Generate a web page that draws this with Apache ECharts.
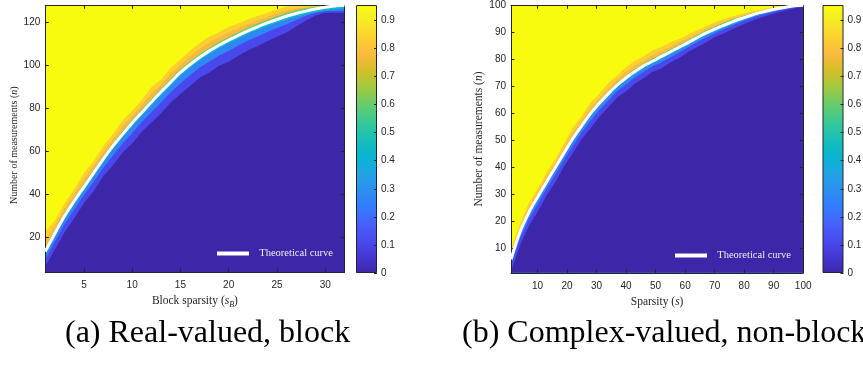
<!DOCTYPE html>
<html><head><meta charset="utf-8">
<script src="https://cdn.jsdelivr.net/npm/echarts@6/dist/echarts.min.js"></script>
<style>html,body{margin:0;padding:0;background:#fff}#c{width:863px;height:366px}</style>
</head><body><div id="c"></div>
<script>
// ---------- (a) real-valued, block ----------
const leftX = [1,2,3,4,5,6,7,8,9,10,11,12,13,14,15,16,17,18,19,20,21,22,23,24,25,26,27,28,29,30,31,32];
const leftTheory = [13.5,22,30,37,43.5,50,56.5,62.5,68,73.3,78.2,83,87.8,92.3,96.8,100.5,103.8,106.8,109.4,111.8,114,116.1,118,119.8,121.4,122.9,124.2,125.3,126.3,127.1,127.7,128];
// contour boundaries (n where success probability reaches given level)
const leftP95 = [23,28,36,42.5,50,55.5,62.5,68,74.5,79,84,90,93.5,99,102.8,107,110.5,113.5,115.5,118,119.5,121.5,123,124.5,126,127.5,128,128,128,128,128,128];
const leftP85 = [19.2,25.6,33.6,40.3,47.4,53.3,60.1,65.8,71.9,76.7,81.7,87.2,91.2,96.3,100.4,104.4,107.8,110.8,113.1,115.5,117.3,119.3,121,122.6,124.2,125.7,126.5,126.9,127.3,127.6,127.9,128];
const leftP65 = [15,23.5,31.5,38.5,45,51.5,58,64,69.5,74.8,79.7,84.5,89.3,93.8,98.3,102,105.3,108.3,110.9,113.3,115.5,117.6,119.5,121.3,122.9,124.4,125.7,126.8,127.3,127.6,127.9,128];
const leftP50 = [13.5,22,30,37,43.5,50,56.5,62.5,68,73.3,78.2,83,87.8,92.3,96.8,100.5,103.8,106.8,109.4,111.8,114,116.1,118,119.8,121.4,122.9,124.2,125.3,126.3,127.1,127.7,128];
const leftP35 = [12,20.5,28.5,35.5,42,48.5,55,61,66.5,71.8,76.7,81.5,86.3,90.8,95.3,99,102.3,105.3,107.9,110.3,112.5,114.6,116.5,118.3,119.9,121.4,122.7,123.8,124.8,125.6,126.2,126.5];
const leftP15 = [10,18.3,26.3,33,39.8,45.8,52.5,58,63.8,68.6,73.7,78.3,82.8,87.6,91.8,95.5,99.1,101.8,104.7,106.8,109.3,111.6,113.5,115.6,117.4,119.2,121.2,123.1,124.4,125.2,125.4,125.5];
const leftP03 = [6.5,14.5,22.5,29,36,41.5,48.5,53.5,59.5,63.8,69.2,73.5,77.8,82.8,86.8,90.5,94.3,96.8,99.9,101.8,104.5,107.1,109,111.3,113.4,115.4,118.2,120.8,123.3,124.5,124.5,124.5];
const leftXTicks = [5,10,15,20,25,30];
const leftYTicks = [20,40,60,80,100,120];

// ---------- (b) complex-valued, non-block ----------
const rightX = [1,4,7,10,13,16,19,22,25,28,31,34,37,40,43,46,49,52,55,58,61,64,67,70,73,76,79,82,85,88,91,94,97,100];
const rightTheory = [6,16,23.2,29,34.5,40,45.4,50.8,55.5,60,63.8,67.3,70.5,73.2,75.5,77.6,79.4,81.1,82.8,84.5,86.2,88,89.7,91.2,92.6,93.9,95.1,96.2,97.2,98,98.7,99.3,99.8,100];
const rightP95 = [10,19,26.7,32,38,43,48.9,54.8,59,64,67.3,71.3,74,77.2,79.5,81.1,83.4,84.6,86.3,87.5,89.2,90.8,92.2,93.7,94.8,95.9,96.8,97.6,98.3,98.9,99.4,99.8,100,100];
const rightP85 = [8.2,17.7,25.1,30.7,36.4,41.7,47.3,53,57.4,62.2,65.7,69.5,72.4,75.4,77.7,79.5,81.6,83,84.7,86.2,87.9,89.5,91.1,92.6,93.8,95,96,97,97.8,98.5,99.1,99.6,99.9,100];
const rightP65 = [6.9,16.9,24.1,29.9,35.4,40.9,46.3,51.7,56.4,60.9,64.7,68.2,71.4,74.1,76.4,78.5,80.3,82,83.7,85.4,87.1,88.9,90.6,92.1,93.5,94.8,95.9,96.9,97.7,98.4,99,99.5,99.9,100];
const rightP50 = [6,16,23.2,29,34.5,40,45.4,50.8,55.5,60,63.8,67.3,70.5,73.2,75.5,77.6,79.4,81.1,82.8,84.5,86.2,88,89.7,91.2,92.6,93.9,95.1,96.2,97.2,98,98.7,99.3,99.8,100];
const rightP35 = [5.1,15.1,22.3,28.1,33.6,39.1,44.5,49.9,54.6,59.1,62.9,66.4,69.6,72.3,74.6,76.7,78.5,80.2,81.9,83.6,85.3,87.1,88.8,90.3,91.7,93,94.2,95.4,96.5,97.4,98.2,98.9,99.5,99.8];
const rightP15 = [3.8,13.5,20.7,26.3,32,37.3,42.9,48.1,53,57.3,61.3,64.8,68.3,70.7,73.3,75.4,77.4,78.9,80.8,82.5,84.5,86.3,88,89.7,91.1,92.5,93.9,95.1,96.2,97.1,97.9,98.7,99.3,99.7];
const rightP03 = [1.5,11,18.2,23.5,29.5,34.5,40.4,45.3,50.5,54.5,58.8,62.3,66,68.2,71,73.1,75.4,76.6,78.8,80.5,82.7,84.5,86.2,88.2,89.6,91.1,92.6,94,95.2,96.2,97.2,98.1,98.9,99.4];
const rightXTicks = [10,20,30,40,50,60,70,80,90,100];
const rightYTicks = [10,20,30,40,50,60,70,80,90,100];

// ---------- colorbar ----------
const colorbarTicks = [0,0.1,0.2,0.3,0.4,0.5,0.6,0.7,0.8,0.9];
const colorbarMax = [0.955];

const FRAME = '#262626';
const SANS = 'Liberation Sans';
const SERIF = 'Liberation Serif';
const parula = ['#3E26A8','#4537D5','#484DF0','#4563FD','#327CFC','#2B91EF','#20A5E3','#08B5D0','#19BFB6','#37C897','#64CD6F','#9DC943','#D1BF27','#F8BA3D','#FCCF30','#F5E924','#F9FB15'];
const bandColors = ['#FCCF30','#F8BA3D','#64CD6F','#0CB8CB','#2F86F6','#4848EC','#3E26A8'];

const chart = echarts.init(document.getElementById('c'), null, {renderer: 'canvas'});

const grids = [
  {left: 45.3, top: 5.3, width: 299.2, height: 266.7},   // 0 left plot
  {left: 356, top: 5, width: 21, height: 268},           // 1 left colorbar
  {left: 511, top: 5.3, width: 292.2, height: 267.5},    // 2 right plot
  {left: 822.5, top: 5, width: 21, height: 268}          // 3 right colorbar
].map(g => Object.assign({containLabel: false, outerBoundsMode: 'none', show: false}, g));
grids[0].show = true; grids[0].backgroundColor = '#F9FB0E'; grids[0].borderWidth = 0;
grids[2].show = true; grids[2].backgroundColor = '#F9FB0E'; grids[2].borderWidth = 0;

const xAxes = [], yAxes = [];
function richT(fs) {
  return {
    t: {fontFamily: SERIF, fontSize: fs, color: FRAME},
    i: {fontFamily: SERIF, fontSize: fs, fontStyle: 'italic', color: FRAME},
    b: {fontFamily: SERIF, fontSize: 8, fontStyle: 'italic', color: FRAME, padding: [7, 0, 0, 0]}
  };
}
function plotAxes(gi, xmin, xmax, xt, ymin, ymax, yt, xname, yname, yGap, yFs, yPad) {
  const tick = (vals) => ({show: true, inside: true, length: 3.5, customValues: vals, lineStyle: {color: FRAME, width: 1}});
  const line = {show: true, onZero: false, lineStyle: {color: FRAME, width: 1}};
  const lab = (vals) => ({show: true, customValues: vals, color: FRAME, fontFamily: SANS, fontSize: 10});
  xAxes.push({gridIndex: gi, type: 'value', position: 'bottom', min: xmin, max: xmax, z: 10,
    axisLine: line, axisTick: tick(xt), axisLabel: Object.assign(lab(xt), {margin: 8}), splitLine: {show: false},
    name: xname, nameLocation: 'middle', nameGap: 19, nameTextStyle: {rich: richT(11.5)}});
  xAxes.push({gridIndex: gi, type: 'value', position: 'top', min: xmin, max: xmax, z: 10,
    axisLine: line, axisTick: tick(xt), axisLabel: {show: false}, splitLine: {show: false}});
  yAxes.push({gridIndex: gi, type: 'value', position: 'left', min: ymin, max: ymax, z: 10,
    axisLine: line, axisTick: tick(yt), axisLabel: Object.assign(lab(yt), {margin: 5}), splitLine: {show: false},
    name: yname, nameLocation: 'middle', nameRotate: 90, nameGap: yGap,
    nameTextStyle: {rich: richT(yFs), padding: yPad}});
  yAxes.push({gridIndex: gi, type: 'value', position: 'right', min: ymin, max: ymax, z: 10,
    axisLine: line, axisTick: tick(yt), axisLabel: {show: false}, splitLine: {show: false}});
}
function cbAxes(gi) {
  xAxes.push({gridIndex: gi, type: 'category', data: ['cb'], show: false, boundaryGap: true});
  yAxes.push({gridIndex: gi, type: 'value', position: 'right', min: 0, max: colorbarMax[0], z: 10,
    axisLine: {show: false}, splitLine: {show: false},
    axisTick: {show: true, inside: true, length: 3, customValues: colorbarTicks, lineStyle: {color: FRAME}},
    axisLabel: {show: true, customValues: colorbarTicks, margin: 4, color: FRAME, fontFamily: SANS, fontSize: 10,
      formatter: v => String(+(+v).toFixed(1))}});
}
// axis indices: left plot x0(bottom) x1(top) y0 y1 ; left cb x2 y2 ; right plot x3 x4 y3 y4 ; right cb x5 y5
plotAxes(0, 1, 32, leftXTicks, 4, 128, leftYTicks,
  '{t|Block sparsity (}{i|s}{b|B}{t|)}', '{t|Number of measurements (}{i|n}{t|)}', 21, 10, [0, 13, 0, 0]);
cbAxes(1);
plotAxes(2, 1, 100, rightXTicks, 1, 100, rightYTicks,
  '{t|Sparsity (}{i|s}{t|)}', '{t|Number of measurements (}{i|n}{t|)}', 20, 11.5, [0, 0, 0, 0]);
cbAxes(3);

const series = [];
function bands(xi, yi, xs, levels) {
  levels.forEach((arr, k) => {
    series.push({type: 'line', xAxisIndex: xi, yAxisIndex: yi, silent: true, symbol: 'none',
      data: xs.map((x, i) => [x, arr[i]]),
      lineStyle: {width: 0, opacity: 0},
      areaStyle: {origin: 'start', color: bandColors[k], opacity: 1},
      z: 2 + k, animation: false});
  });
}
bands(0, 0, leftX, [leftP95, leftP85, leftP65, leftP50, leftP35, leftP15, leftP03]);
bands(3, 3, rightX, [rightP95, rightP85, rightP65, rightP50, rightP35, rightP15, rightP03]);
series.push({name: 'Theoretical curve', type: 'line', xAxisIndex: 0, yAxisIndex: 0, symbol: 'none', smooth: 0.3,
  data: leftX.map((x, i) => [x, leftTheory[i]]), color: '#ffffff', lineStyle: {color: '#ffffff', width: 3}, z: 20});
series.push({name: 'Theoretical curve', type: 'line', xAxisIndex: 3, yAxisIndex: 3, symbol: 'none', smooth: 0.3,
  data: rightX.map((x, i) => [x, rightTheory[i]]), color: '#ffffff', lineStyle: {color: '#ffffff', width: 3}, z: 20});

const cbGradient = () => new echarts.graphic.LinearGradient(0, 1, 0, 0,
  parula.map((c, i) => ({offset: i / (parula.length - 1), color: c})));
[[2, 2], [5, 5]].forEach(([xi, yi]) => {
  series.push({type: 'bar', xAxisIndex: xi, yAxisIndex: yi, silent: true, barWidth: '100%',
    data: colorbarMax, itemStyle: {color: cbGradient(), borderColor: FRAME, borderWidth: 1}, z: 2});
});

const legendBase = {orient: 'horizontal', padding: 0, itemWidth: 32, itemHeight: 4, icon: 'rect', z: 40, zlevel: 0,
  selectedMode: false, data: ['Theoretical curve'], itemStyle: {color: '#ffffff'},
  formatter: n => '  ' + n,
  textStyle: {color: '#EEEEEE', fontFamily: SERIF, fontSize: 10.5}};

chart.setOption({
  animation: false,
  textStyle: {fontFamily: SANS},
  grid: grids,
  xAxis: xAxes,
  yAxis: yAxes,
  legend: [Object.assign({left: 217, top: 248}, legendBase), Object.assign({left: 675, top: 250}, legendBase)],
  series: series,
  graphic: [
    {type: 'text', left: 65, top: 318, style: {text: '(a) Real-valued, block', font: '32px "Liberation Serif"', fill: '#000'}},
    {type: 'text', left: 462, top: 318, style: {text: '(b) Complex-valued, non-block', font: '32px "Liberation Serif"', fill: '#000'}}
  ]
});
</script></body></html>
